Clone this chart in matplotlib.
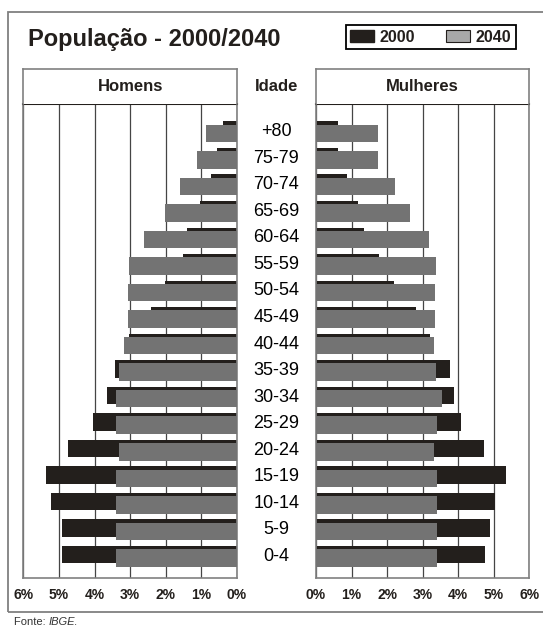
import matplotlib
matplotlib.use('Agg')
import matplotlib.pyplot as plt
from matplotlib.patches import Rectangle, Patch

plt.rcParams['font.family'] = ['Liberation Sans', 'DejaVu Sans']

# ---------------- data ----------------
age_groups = ['0-4', '5-9', '10-14', '15-19', '20-24', '25-29', '30-34', '35-39',
              '40-44', '45-49', '50-54', '55-59', '60-64', '65-69', '70-74', '75-79', '+80']
men_2000 = [4.90, 4.90, 5.22, 5.36, 4.75, 4.03, 3.65, 3.42, 3.02, 2.42, 2.03, 1.52,
            1.39, 1.03, 0.73, 0.56, 0.39]
men_2040 = [3.40, 3.40, 3.40, 3.40, 3.31, 3.40, 3.40, 3.31, 3.17, 3.06, 3.06, 3.02,
            2.60, 2.03, 1.59, 1.12, 0.86]
women_2000 = [4.75, 4.89, 5.03, 5.34, 4.72, 4.08, 3.88, 3.77, 3.21, 2.81, 2.19, 1.77,
              1.35, 1.17, 0.86, 0.61, 0.61]
women_2040 = [3.41, 3.41, 3.41, 3.40, 3.31, 3.40, 3.54, 3.37, 3.31, 3.34, 3.34, 3.37,
              3.17, 2.64, 2.22, 1.74, 1.74]
tick_values = [0, 1, 2, 3, 4, 5, 6]
tick_labels = ['0%', '1%', '2%', '3%', '4%', '5%', '6%']
series_labels = ['2000', '2040']
title = 'População - 2000/2040'
left_title = 'Homens'
right_title = 'Mulheres'
mid_title = 'Idade'
source = 'IBGE'

# ---------------- style ----------------
W, H = 543, 628
C_BLACK = '#231f1c'
C_GRAY = '#737373'
C_LEG_GRAY = '#a8a8a8'
C_FRAME = '#808080'
C_GRID = '#454545'

fig = plt.figure(figsize=(W / 100, H / 100), dpi=100)


def rect(x0, y0, x1, y1):
    return [x0 / W, 1 - y1 / H, (x1 - x0) / W, (y1 - y0) / H]


# outer frame
fig.patches.append(Rectangle((8.3 / W, 1 - 611.7 / H), 1.2, (611.7 - 11.7) / H,
                             transform=fig.transFigure, fill=False,
                             edgecolor=C_FRAME, lw=1.3))

ypos = list(range(len(age_groups)))
ylim = (-0.833, 17.05)
bh = 0.66
off = 0.062

axL = fig.add_axes(rect(23.3, 104, 237, 578.3))
axR = fig.add_axes(rect(316, 104, 529.3, 578.3))
axM = fig.add_axes(rect(237, 104, 316, 578.3))

for ax, v00, v40, xl in ((axL, men_2000, men_2040, (6, 0)),
                         (axR, women_2000, women_2040, (0, 6))):
    ax.barh([y + off for y in ypos], v00, height=bh, color=C_BLACK, zorder=2)
    ax.barh([y - off for y in ypos], v40, height=bh, color=C_GRAY, zorder=3)
    ax.set_xlim(*xl)
    ax.set_ylim(*ylim)
    ax.set_yticks([])
    ax.set_xticks(tick_values)
    ax.set_xticklabels(tick_labels, fontweight='bold', fontsize=10, color=C_BLACK)
    ax.tick_params(axis='x', length=0, pad=7)
    ax.grid(axis='x', color=C_GRID, lw=0.9)
    ax.set_axisbelow(True)
    for s in ('left', 'right', 'bottom'):
        ax.spines[s].set_color(C_FRAME)
        ax.spines[s].set_linewidth(1.2)
    ax.spines['top'].set_color(C_BLACK)
    ax.spines['top'].set_linewidth(1.5)

axM.set_ylim(*ylim)
axM.axis('off')
for y, lab in zip(ypos, age_groups):
    axM.text(0.5, y, lab, transform=axM.get_yaxis_transform(), ha='center',
             va='center', fontsize=13, color='black')

# header boxes
for (x0, x1), lab in (((23.3, 237), left_title), ((316, 529.3), right_title)):
    hax = fig.add_axes(rect(x0, 69, x1, 104))
    hax.set_xticks([])
    hax.set_yticks([])
    for s in hax.spines.values():
        s.set_color(C_FRAME)
        s.set_linewidth(1.2)
    hax.spines['bottom'].set_visible(False)
    hax.text(0.5, 0.5, lab, ha='center', va='center', fontsize=12,
             fontweight='bold', color=C_BLACK, transform=hax.transAxes)

fig.text(276.5 / W, 1 - 86.5 / H, mid_title, ha='center', va='center', fontsize=12,
         fontweight='bold', color=C_BLACK)

# title
fig.text(28 / W, 1 - 45.7 / H, title, ha='left', va='baseline', fontsize=17,
         fontweight='bold', color=C_BLACK)

# legend
handles = [Patch(facecolor=C_BLACK, edgecolor=C_BLACK, label=series_labels[0]),
           Patch(facecolor=C_LEG_GRAY, edgecolor=C_BLACK, lw=0.8, label=series_labels[1])]
leg = fig.legend(handles=handles, ncol=2, loc='center',
                 bbox_to_anchor=(430.6 / W, 1 - 37 / H), frameon=True,
                 fancybox=False, edgecolor='black', framealpha=1,
                 prop=dict(weight='bold', size=11.5), handlelength=1.5,
                 handleheight=0.85, handletextpad=0.35, columnspacing=1.9,
                 borderpad=0.3, borderaxespad=0)
leg.get_frame().set_linewidth(1.3)
for t in leg.get_texts():
    t.set_color(C_BLACK)

# source
t1 = fig.text(14 / W, 1 - 622 / H, 'Fonte: ', ha='left', va='center', fontsize=8,
              color='#333333')
t2 = fig.text(0, 0, source, fontsize=8, color='#333333', style='italic')
fig.canvas.draw()
bb = t1.get_window_extent()
t2.set_position((bb.x1 / W / (fig.dpi / 100), 1 - 622 / H))
t2.set_va('center')
t2.set_text(source + '.')

fig.savefig('out.png', dpi=100)
